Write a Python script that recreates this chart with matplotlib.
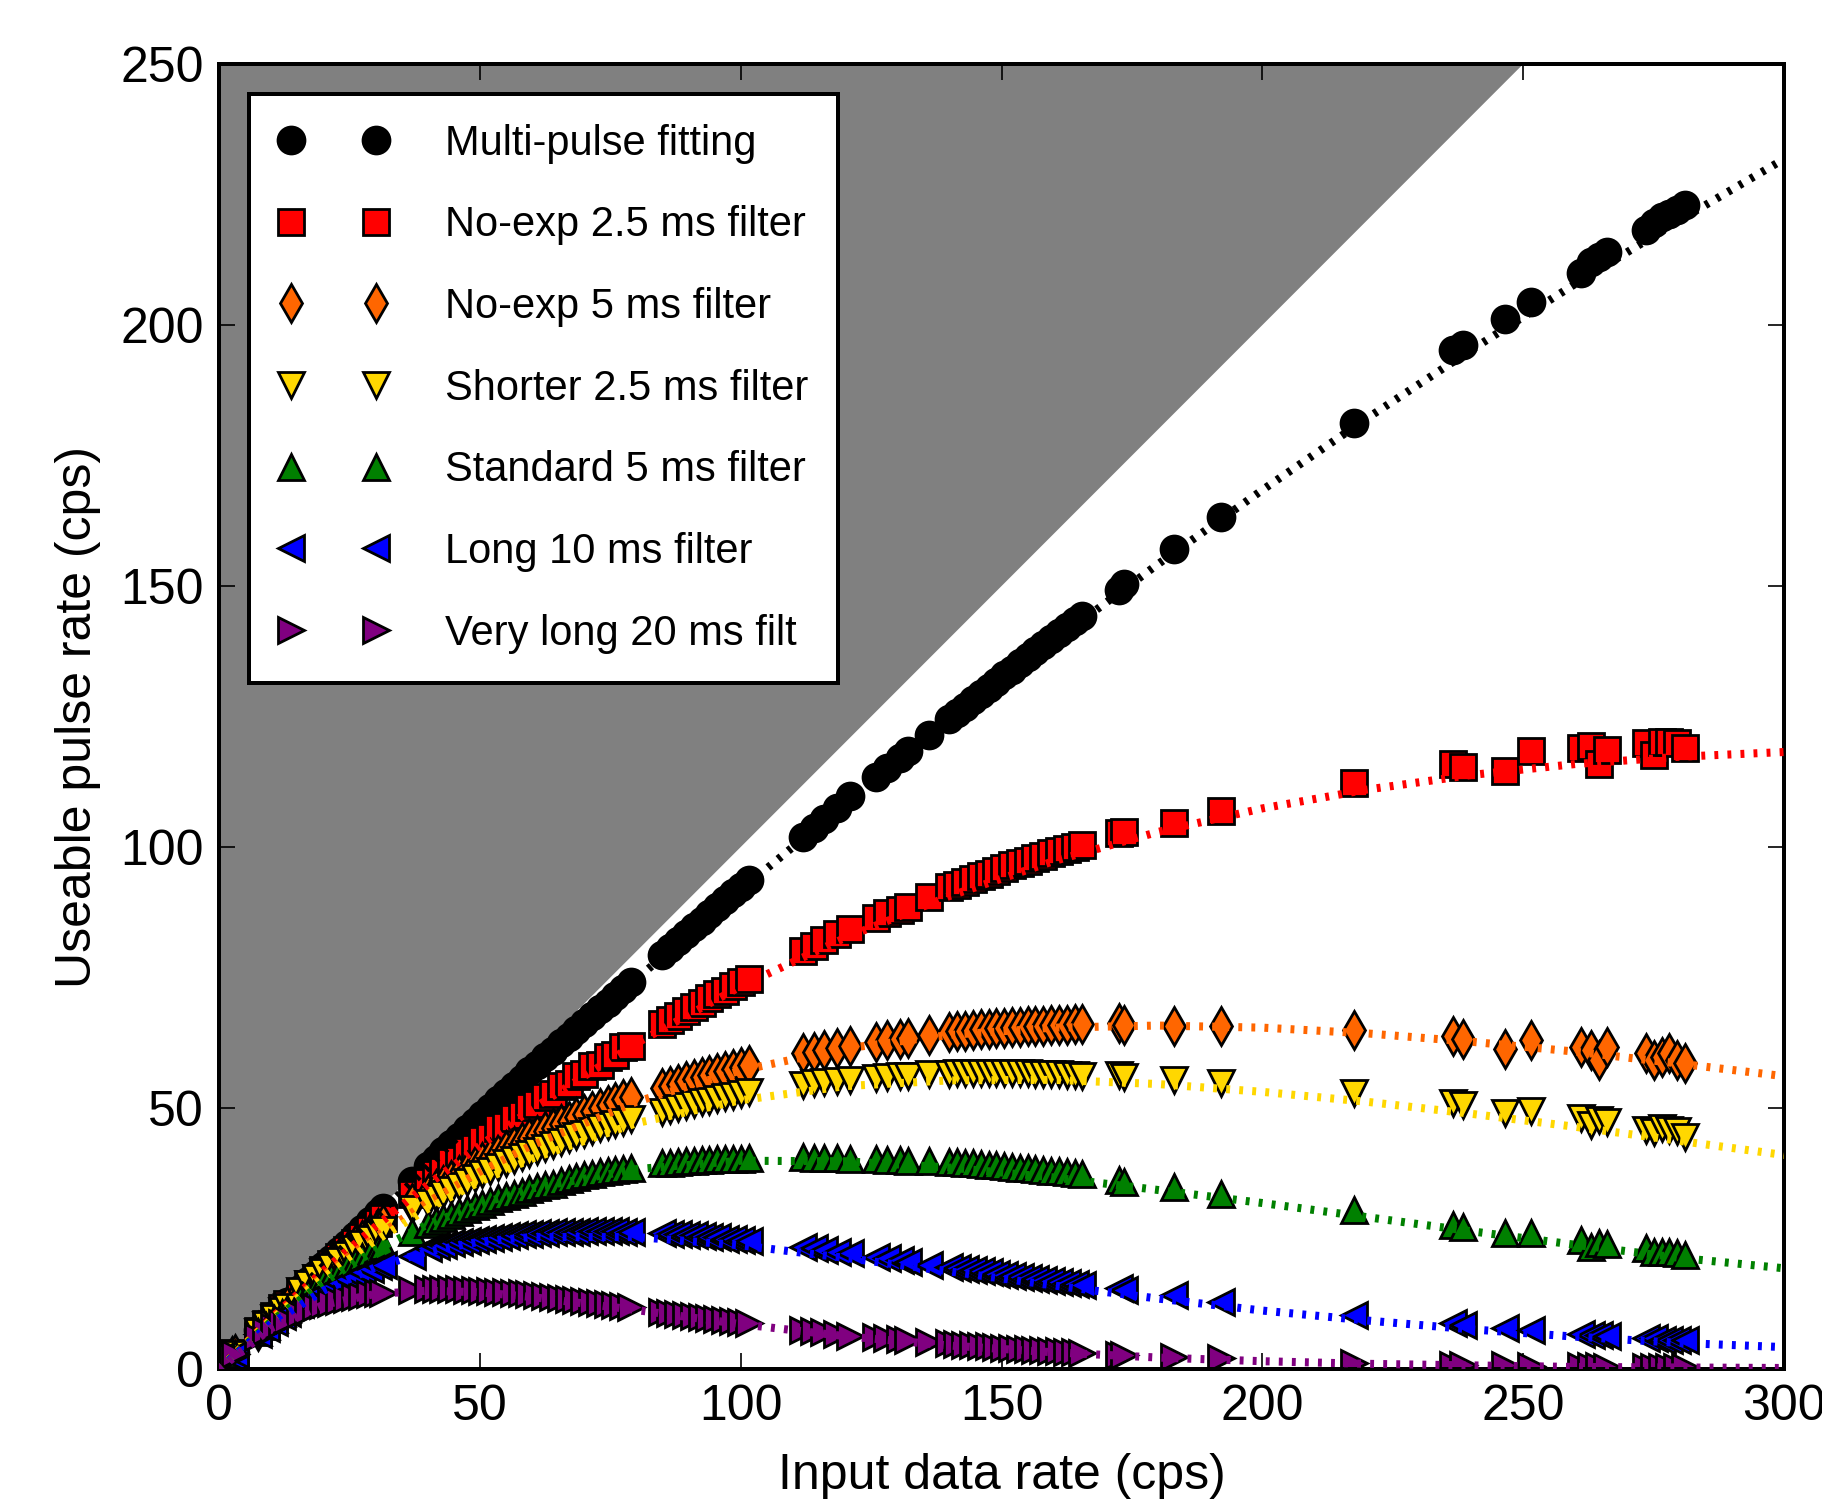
import matplotlib
matplotlib.use('Agg')
import matplotlib.pyplot as plt
import numpy as np

plt.rcParams['font.family'] = ['Liberation Sans', 'DejaVu Sans']
plt.rcParams['lines.scale_dashes'] = False

# input data rate (cps), shared by every filter
x_rate = [2.5, 3.0, 7.5, 9.0, 10.5, 12.0, 13.0,
          15.5, 17.0, 18.5, 20.0, 21.5, 23.0, 24.5, 26.0, 27.5, 29.0, 30.5, 31.5,
          37.0,
          40.0, 41.5, 43.0, 44.5, 46.0, 47.5, 49.0, 50.5, 52.0, 53.5, 55.0, 56.5, 58.0, 59.5,
          61.0, 62.5, 64.0, 65.5, 67.0, 68.5, 70.0, 71.5, 73.0, 74.5, 76.0, 77.5, 79.0,
          85.0, 86.5, 88.0, 89.5, 91.0, 92.5, 94.0, 95.5, 97.0, 98.5, 100.0, 101.5,
          112.0, 114.0, 116.0, 118.5, 121.0,
          126.0, 128.0, 130.5, 132.0,
          136.0,
          140.0, 141.5, 143.0, 144.5, 146.0, 147.5, 149.0, 150.5, 152.0, 153.5, 155.0,
          156.5, 158.0, 159.5, 161.0, 162.5, 164.0, 165.5,
          172.5, 173.5, 183.0, 192.0, 217.5,
          236.5, 238.5, 246.5, 251.5,
          261.0, 263.0, 264.5, 266.0,
          273.5, 275.0, 276.5, 278.0, 279.5, 281.0]

# useable pulse rate (cps) per filter
multi_pulse = [2.5, 3.0, 7.5, 8.9, 10.4, 11.9, 12.9,
               15.3, 16.8, 18.2, 19.7, 21.1, 22.6, 24.0, 25.5, 26.9, 28.3, 29.8, 30.8,
               36.0,
               38.8, 40.3, 41.7, 43.1, 44.5, 45.9, 47.3, 48.7, 50.1, 51.5, 52.9, 54.2, 55.6, 57.0,
               58.3, 59.7, 61.0, 62.4, 63.7, 65.0, 66.3, 67.6, 68.9, 70.2, 71.5, 72.8, 74.1,
               79.4, 80.7, 82.0, 83.3, 84.6, 85.9, 87.2, 88.5, 89.8, 91.1, 92.4, 93.7,
               102.0, 103.7, 105.4, 107.5, 109.8,
               113.4, 115.1, 117.1, 118.3,
               121.4,
               124.5, 125.7, 126.9, 128.1, 129.3, 130.5, 131.7, 132.9, 134.0, 135.2, 136.4,
               137.6, 138.7, 139.9, 141.0, 142.2, 143.3, 144.3,
               149.2, 150.4, 157.0, 163.3, 181.2,
               195.2, 196.2, 201.1, 204.5,
               209.9, 212.1, 213.0, 214.0,
               218.2, 219.5, 220.6, 221.3, 222.0, 223.0]

noexp_2p5 = [2.5, 3.0, 7.3, 8.7, 10.2, 11.6, 12.5,
             14.8, 16.2, 17.5, 18.9, 20.2, 21.5, 22.8, 24.1, 25.3, 26.6, 27.9, 28.9,
             33.6,
             35.8, 37.3, 37.9, 39.6, 40.1, 41.8, 42.3, 43.9, 44.5, 46.1, 46.6, 48.1, 48.7, 50.2,
             50.7, 52.2, 52.6, 54.2, 54.6, 56.1, 56.5, 58.0, 58.3, 59.8, 60.1, 61.6, 61.9,
             66.1, 66.9, 67.7, 68.6, 69.4, 70.2, 71.0, 71.8, 72.5, 73.3, 74.1, 74.8,
             80.0, 81.0, 82.2, 83.4, 84.3,
             86.4, 87.3, 88.0, 88.6,
             90.4,
             92.3, 92.8, 93.3, 93.9, 94.4, 94.9, 95.5, 96.0, 96.5, 97.0, 97.4,
             97.9, 98.3, 98.8, 99.2, 99.6, 100.0, 100.4,
             102.6, 102.9, 104.6, 106.9, 112.2,
             115.9, 115.4, 114.6, 118.3,
             118.9, 119.3, 116.0, 118.6,
             119.9, 117.6, 120.2, 120.2, 119.9, 118.9]

noexp_5 = [2.5, 2.9, 7.2, 8.6, 9.9, 11.2, 12.1,
           15.0, 16.3, 17.6, 18.9, 20.1, 21.3, 22.5, 23.7, 24.8, 26.0, 27.1, 27.8,
           31.8,
           33.5, 34.4, 35.3, 36.2, 37.1, 37.9, 38.8, 39.6, 40.4, 41.2, 41.9, 42.7, 43.4, 44.2,
           44.9, 45.6, 46.2, 46.9, 47.6, 48.2, 48.8, 49.4, 50.0, 50.6, 51.2, 51.7, 52.2,
           53.8, 54.2, 54.6, 55.1, 55.5, 55.9, 56.3, 56.7, 57.1, 57.5, 57.9, 58.3,
           60.5, 60.8, 61.1, 61.5, 61.8,
           62.7, 63.0, 63.3, 63.5,
           64.0,
           64.5, 64.7, 64.8, 65.0, 65.1, 65.2, 65.3, 65.4, 65.5, 65.6, 65.7,
           65.8, 65.8, 65.9, 66.0, 66.0, 66.1, 66.1,
           66.3, 66.0, 65.7, 65.7, 64.9,
           63.8, 63.2, 61.3, 63.0,
           61.6, 61.1, 59.2, 61.7,
           60.5, 59.2, 59.8, 60.5, 59.2, 58.6]

shorter_2p5 = [2.5, 2.9, 7.1, 8.5, 9.8, 11.1, 11.9,
               15.0, 16.2, 17.4, 18.5, 19.6, 20.7, 21.8, 22.9, 23.9, 24.9, 25.9, 26.6,
               30.6,
               31.9, 32.7, 33.5, 34.3, 35.1, 35.9, 36.6, 37.3, 38.0, 38.7, 39.4, 40.0, 40.6, 41.2,
               41.8, 42.4, 43.0, 43.5, 44.1, 44.6, 45.1, 45.6, 46.1, 46.5, 47.0, 47.4, 47.9,
               49.3, 49.7, 50.1, 50.4, 50.8, 51.1, 51.4, 51.8, 52.1, 52.4, 52.7, 53.0,
               54.5, 54.8, 55.0, 55.2, 55.4,
               55.8, 56.0, 56.1, 56.2,
               56.5,
               56.6, 56.7, 56.8, 56.8, 56.8, 56.8, 56.8, 56.8, 56.7, 56.7, 56.7,
               56.6, 56.6, 56.5, 56.5, 56.4, 56.3, 56.2,
               56.3, 56.0, 55.4, 54.7, 52.8,
               50.9, 50.6, 49.0, 49.4,
               48.0, 46.7, 47.7, 47.4,
               45.8, 45.5, 46.1, 45.8, 45.6, 44.5]

standard_5 = [2.4, 2.9, 7.0, 8.3, 9.5, 10.7, 11.5,
              13.4, 14.5, 15.6, 16.6, 17.6, 18.6, 19.6, 20.5, 21.4, 22.2, 23.0, 23.6,
              26.3,
              27.7, 28.3, 29.0, 29.5, 30.1, 30.7, 31.2, 31.7, 32.2, 32.7, 33.2, 33.6, 34.0, 34.4,
              34.8, 35.2, 35.5, 36.0, 36.4, 36.7, 37.1, 37.4, 37.7, 38.0, 38.2, 38.4, 38.6,
              39.4, 39.5, 39.7, 39.8, 39.9, 40.0, 40.1, 40.2, 40.2, 40.3, 40.3, 40.4,
              40.6, 40.5, 40.5, 40.4, 40.3,
              40.2, 40.1, 40.0, 39.9,
              39.9,
              39.7, 39.6, 39.5, 39.4, 39.3, 39.1, 39.0, 38.9, 38.7, 38.6, 38.5,
              38.3, 38.2, 38.0, 37.9, 37.7, 37.6, 37.4,
              36.2, 35.9, 34.9, 33.6, 30.5,
              27.6, 27.3, 26.0, 26.0,
              24.7, 23.4, 24.1, 24.0,
              23.1, 22.5, 22.5, 22.5, 22.2, 21.8]

long_10 = [2.4, 2.9, 6.7, 7.9, 9.0, 10.1, 10.8,
           12.4, 13.3, 14.2, 15.0, 15.8, 16.5, 17.2, 17.9, 18.5, 19.1, 19.7, 20.0,
           21.7,
           23.2, 23.5, 23.8, 24.1, 24.3, 24.5, 24.7, 24.9, 25.1, 25.3, 25.4, 25.6, 25.8, 25.9,
           26.0, 26.1, 26.2, 26.2, 26.3, 26.3, 26.4, 26.4, 26.4, 26.4, 26.4, 26.3, 26.3,
           26.0, 25.9, 25.8, 25.7, 25.6, 25.4, 25.3, 25.2, 25.0, 24.9, 24.8, 24.6,
           23.3, 23.1, 22.8, 22.5, 22.2,
           21.4, 21.2, 20.8, 20.6,
           20.0,
           19.6, 19.4, 19.2, 19.0, 18.8, 18.6, 18.3, 18.1, 17.9, 17.7, 17.5,
           17.3, 17.1, 16.9, 16.7, 16.5, 16.3, 16.1,
           15.5, 15.2, 14.2, 12.9, 10.3,
           8.8, 8.4, 7.8, 7.5,
           6.8, 6.5, 6.5, 6.4,
           5.9, 5.9, 5.6, 5.6, 5.6, 5.5]

very_long_20 = [2.3, 2.8, 6.2, 7.2, 8.1, 8.9, 9.4,
                10.6, 11.2, 11.8, 12.3, 12.7, 13.1, 13.4, 13.8, 14.0, 14.3, 14.5, 14.6,
                15.1,
                15.4, 15.4, 15.4, 15.3, 15.3, 15.2, 15.1, 15.0, 14.9, 14.8, 14.7, 14.6, 14.5, 14.3,
                14.2, 14.0, 13.8, 13.6, 13.4, 13.2, 13.0, 12.9, 12.7, 12.5, 12.3, 12.1, 11.9,
                11.0, 10.8, 10.6, 10.4, 10.2, 10.0, 9.8, 9.6, 9.4, 9.2, 9.0, 8.8,
                7.5, 7.3, 7.0, 6.7, 6.4,
                6.1, 5.9, 5.7, 5.5,
                5.2,
                4.9, 4.8, 4.7, 4.6, 4.5, 4.4, 4.3, 4.1, 4.0, 3.9, 3.8,
                3.7, 3.6, 3.5, 3.4, 3.3, 3.2, 3.1,
                2.7, 2.6, 2.4, 2.2, 1.2,
                0.8, 0.7, 0.7, 0.6,
                0.5, 0.5, 0.5, 0.4,
                0.4, 0.4, 0.3, 0.3, 0.3, 0.3]

# fitted throughput curves, sampled along the rate axis
fit_rate = [0, 10, 20, 30, 40, 50, 60, 80, 100, 120, 140, 160, 180, 200, 220, 240, 260, 280, 300]
fit_multi_pulse = [0, 9.9, 19.7, 29.2, 38.6, 48.9, 57.0, 74.7, 91.8, 108.2, 124.1, 139.4,
                   154.2, 168.4, 182.1, 195.2, 207.9, 220.1, 231.8]
fit_noexp_2p5 = [0, 9.7, 18.8, 27.3, 35.3, 42.8, 49.8, 62.4, 73.3, 82.6, 90.6, 97.3,
                 102.9, 107.4, 111.0, 113.8, 115.9, 117.3, 118.2]
fit_noexp_5 = [0, 9.5, 17.9, 25.3, 32.0, 37.8, 42.9, 51.2, 57.2, 61.4, 64.0, 65.4,
               65.8, 65.4, 64.3, 62.7, 60.8, 58.5, 56.1]
fit_shorter_2p5 = [0, 9.4, 17.5, 24.6, 30.7, 35.9, 40.3, 47.1, 51.5, 54.2, 55.3, 55.4,
                   54.6, 53.1, 51.2, 48.9, 46.4, 43.7, 41.0]
fit_standard_5 = [0, 9.1, 16.6, 22.8, 27.7, 31.6, 34.6, 38.3, 39.9, 39.8, 38.6, 36.7,
                  34.3, 31.8, 29.1, 26.4, 23.8, 21.3, 19.3]
fit_long_10 = [0, 8.7, 15.0, 19.5, 22.5, 24.4, 25.3, 25.3, 23.7, 21.3, 18.7, 16.0,
               13.5, 11.2, 9.3, 7.6, 6.2, 5.0, 4.2]
fit_very_long_20 = [0, 7.8, 12.3, 14.4, 15.0, 14.7, 13.8, 11.3, 8.6, 6.3, 4.5, 3.2,
                    2.2, 1.5, 1.0, 0.7, 0.4, 0.3, 0.2]

labels = ['Multi-pulse fitting', 'No-exp 2.5 ms filter', 'No-exp 5 ms filter',
          'Shorter 2.5 ms filter', 'Standard 5 ms filter', 'Long 10 ms filter',
          'Very long 20 ms filt']

x_max, y_max = 300, 250

series = [
    (multi_pulse, fit_multi_pulse, 'o', 'k'),
    (noexp_2p5, fit_noexp_2p5, 's', 'r'),
    (noexp_5, fit_noexp_5, 'd', '#ff6600'),
    (shorter_2p5, fit_shorter_2p5, 'v', 'gold'),
    (standard_5, fit_standard_5, '^', 'g'),
    (long_10, fit_long_10, '<', 'b'),
    (very_long_20, fit_very_long_20, '>', 'purple'),
]

fig = plt.figure(figsize=(1822 / 200, 1499 / 200), dpi=200)
ax = fig.add_axes([0.1202, 0.0867, 0.859, 0.8706])

# region above output = input is unreachable
diag = np.array([0.0, x_max])
ax.fill_between(diag, diag, y_max, color='gray', lw=0, zorder=0)

for (rate, fit, marker, colour), label in zip(series, labels):
    ax.plot(x_rate, rate, linestyle='none', marker=marker, markersize=9.7,
            markerfacecolor=colour, markeredgecolor='k', markeredgewidth=1.0,
            label=label, zorder=2)

for rate, fit, marker, colour in series:
    ax.plot(fit_rate, fit, color=colour, lw=2.9, dashes=(1.4, 3.3),
            dash_capstyle='butt', zorder=3)

ax.set_xlim(0, x_max)
ax.set_ylim(0, y_max)
ax.set_xticks(np.arange(0, x_max + 1, 50))
ax.set_yticks(np.arange(0, y_max + 1, 50))
ax.tick_params(direction='in', length=5.8, width=0.6, top=True, right=True,
               pad=5.5, labelsize=18)
for sp in ax.spines.values():
    sp.set_linewidth(1.44)

ax.set_xlabel('Input data rate (cps)', fontsize=18, labelpad=8)
ax.set_ylabel('Useable pulse rate (cps)', fontsize=18, labelpad=7)

leg = ax.legend(loc='upper left', numpoints=2, fontsize=15, fancybox=False,
                edgecolor='k', framealpha=1, borderaxespad=0.72, borderpad=0.71,
                handlelength=2.64, handletextpad=1.36, labelspacing=1.0)
leg.get_frame().set_linewidth(1.44)

fig.savefig('out.png', dpi=200)
